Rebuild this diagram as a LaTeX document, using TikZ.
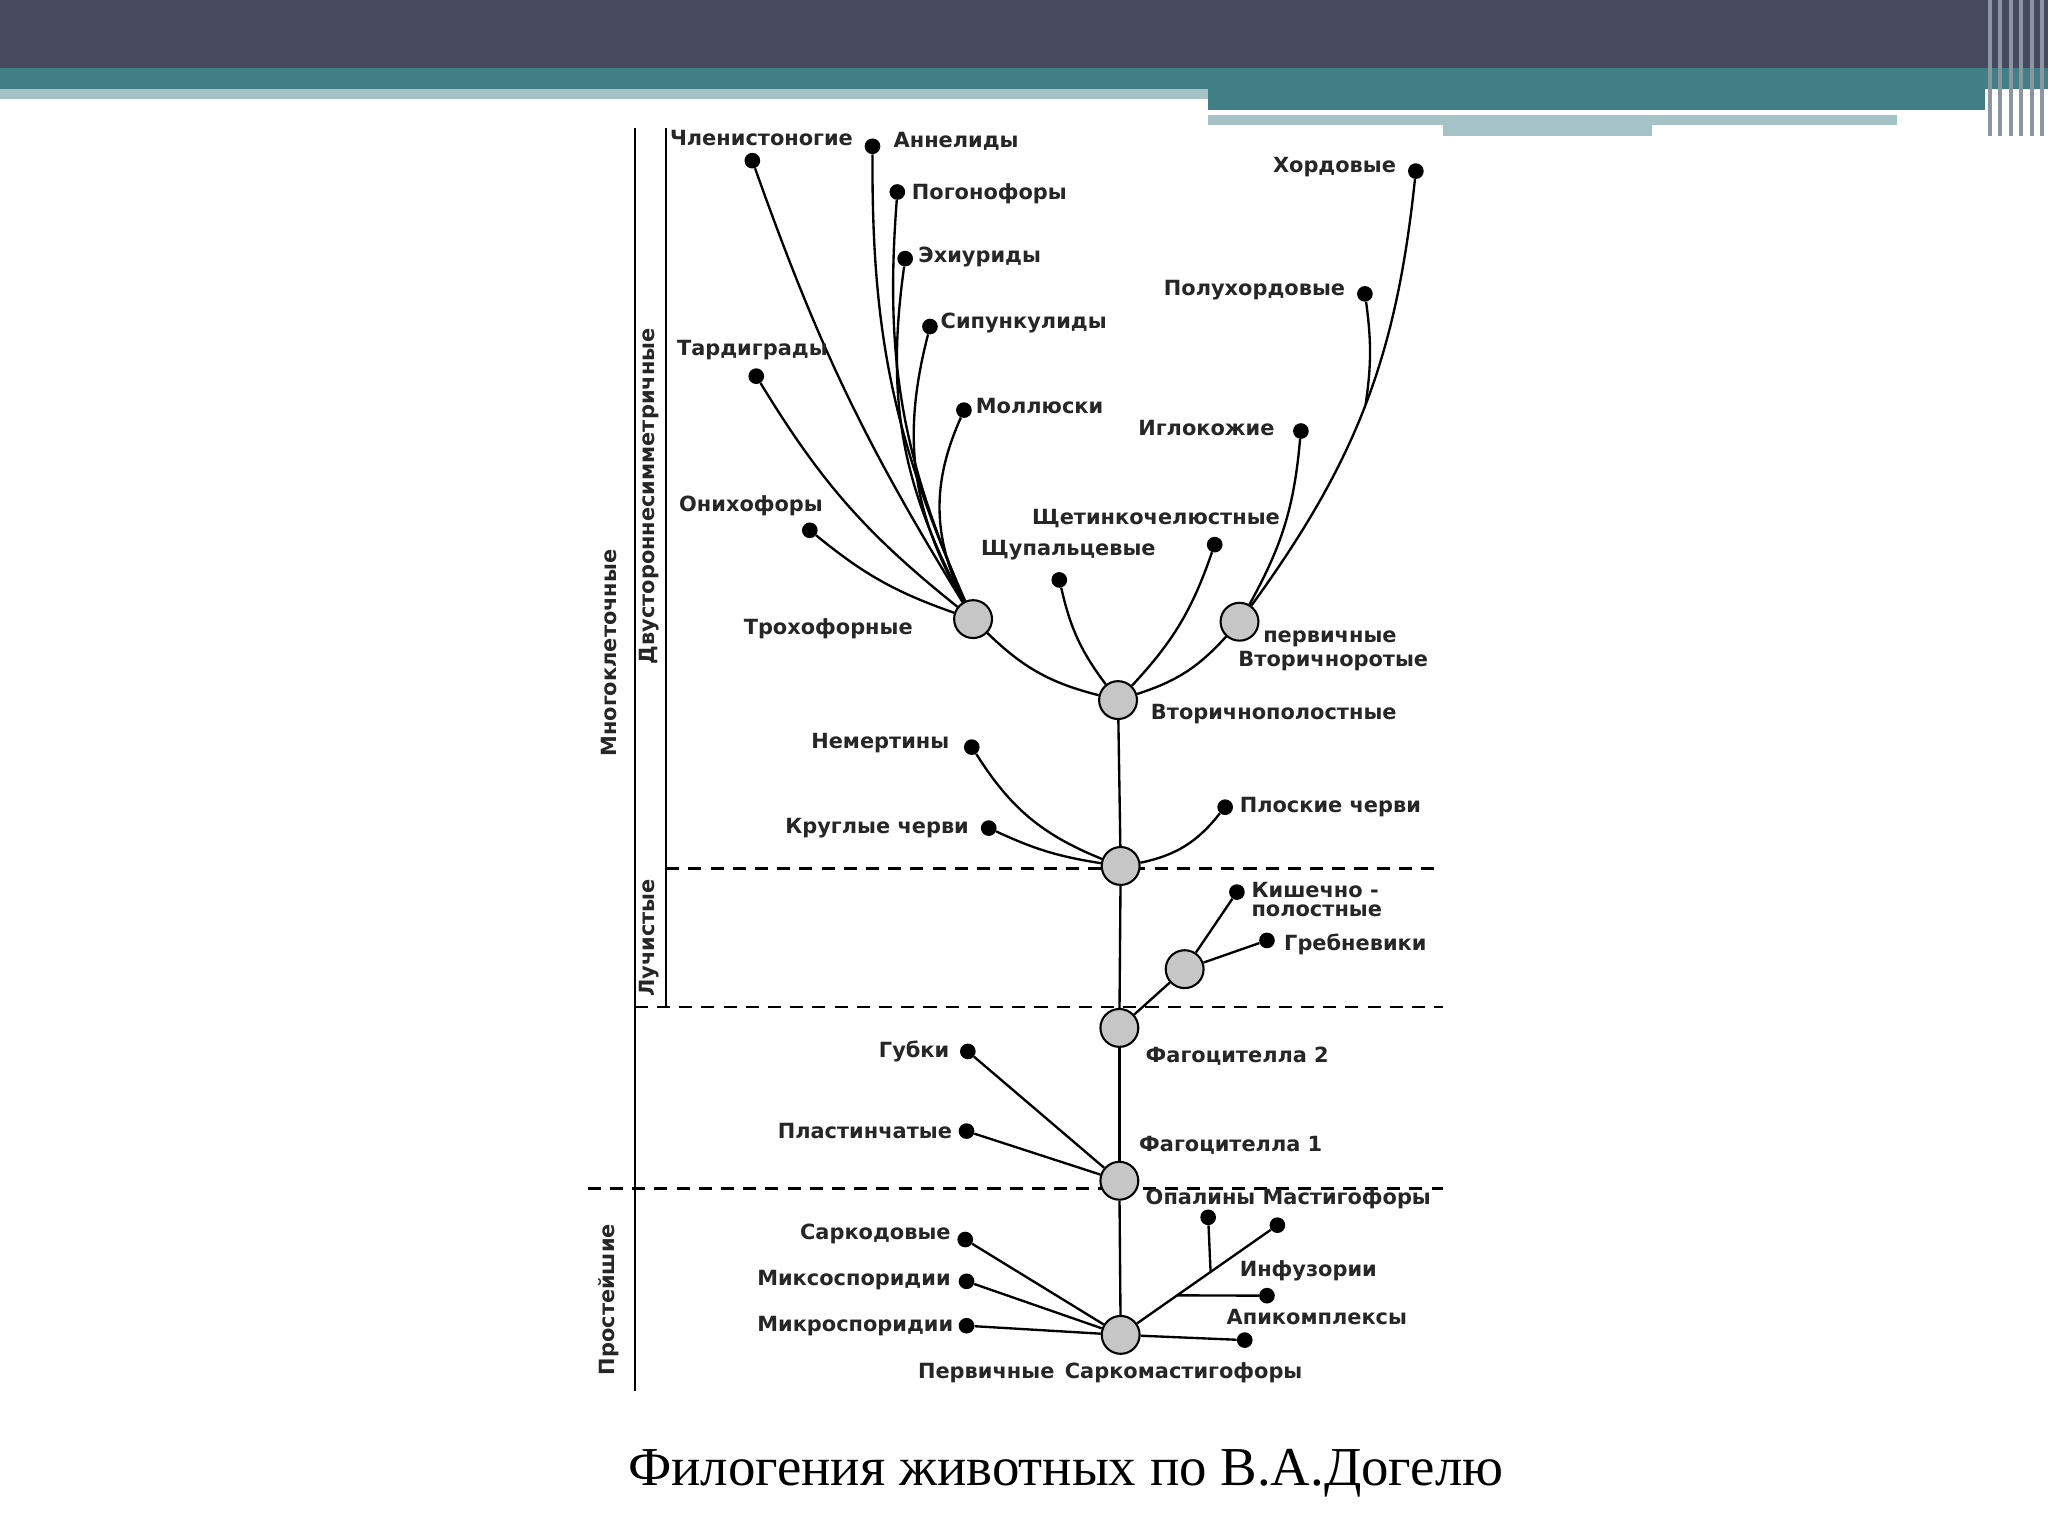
\documentclass[tikz,border=0pt]{standalone}
\usepackage{fontspec}
\setmainfont{DejaVu Sans}
\newfontfamily\capfont{Liberation Serif}
\begin{document}
\begin{tikzpicture}[x=1pt,y=-1pt,
  big/.style={circle,draw=black,line width=1.6pt,fill=gray!45,minimum size=29pt,inner sep=0pt},
  dot/.style={circle,fill=black,minimum size=12pt,inner sep=0pt},
  lab/.style={font=\bfseries\fontsize{16}{17}\selectfont,inner sep=1pt,text=black!85},
  br/.style={line width=1.8pt},
  dsh/.style={line width=1.8pt,dash pattern=on 10pt off 7pt}]
\useasboundingbox (0,0) rectangle (1568,1176);
% header
\fill[fill=white] (0,0) rectangle (1568,1176);
\fill[fill={rgb,255:red,71;green,73;blue,94}] (0,0) rectangle (1568,52);
\fill[fill={rgb,255:red,64;green,128;blue,133}] (0,52) rectangle (1568,68);
\fill[fill={rgb,255:red,165;green,195;blue,198}] (0,68) rectangle (925,76);
\fill[fill={rgb,255:red,64;green,128;blue,133}] (925,68) rectangle (1520,84);
\fill[fill={rgb,255:red,165;green,195;blue,198}] (925,88) rectangle (1452,96);
\fill[fill={rgb,255:red,165;green,195;blue,198}] (1105,96) rectangle (1265,104);
\foreach \x in {1522,1530,1538,1546,1554,1562}{\fill[fill={rgb,255:red,140;green,150;blue,160}] (\x,0) rectangle (\x+3,104);}
% side lines
\draw[br] (486,98) -- (486,1065);
\draw[br] (510,98) -- (510,771);
\draw[dsh] (510,665) -- (1105,665);
\draw[dsh] (486,771) -- (1105,771);
\draw[dsh] (450,910) -- (1105,910);
\node[lab,rotate=90] (mk) at (466,500) {Многоклеточные};
\node[lab,rotate=90] (dv) at (497,380) {Двустороннесимметричные};
\node[lab,rotate=90] (lu) at (497,718) {Лучистые};
\node[lab,rotate=90] (pr) at (466,995) {Простейшие};
% big nodes
\node[big] (root) at (858,1022) {};
\node[big] (f1) at (857,904) {};
\node[big] (f2) at (857,787) {};
\node[big] (cten) at (907,742) {};
\node[big] (bil) at (858,663) {};
\node[big] (vtp) at (856,536) {};
\node[big] (tro) at (745,474) {};
\node[big] (deu) at (949,476) {};
% dots
\foreach \n/\x/\y in {sar/739/949,mix/740/981,mic/740/1015,opa/925/932,mas/978/938,inf/970/992,api/953/1026,
 gub/741/805,pla/740/866,kis/947/683,gre/970/720,nem/744/572,kru/757/634,plo/938/618,
 shu/811/444,she/930/417,oni/620/406,tar/579/288,chl/576/123,ann/668/112,pog/687/147,exi/693/198,sip/712/250,mol/738/314,
 igl/996/330,pol/1045/225,hor/1084/131}
 \node[dot] (\n) at (\x,\y) {};
% edges
\draw[br] (root) -- (f1); \draw[br] (f1) -- (f2); \draw[br] (f2) -- (bil); \draw[br] (bil) -- (vtp);
\draw[br] (root) -- (sar); \draw[br] (root) -- (mix); \draw[br] (root) -- (mic);
\draw[br] (root) -- coordinate[pos=0.3] (ib) coordinate[pos=0.55] (op) (mas);
\draw[br] (op) -- (opa);
\draw[br] (ib) -- (inf); \draw[br] (root) -- (api);
\draw[br] (f1) -- (gub); \draw[br] (f1) -- (pla);
\draw[br] (f2) -- (cten); \draw[br] (cten) -- (kis); \draw[br] (cten) -- (gre);
\draw[br] (bil) to[bend left=18] (nem); \draw[br] (bil) to[bend left=8] (kru); \draw[br] (bil) to[bend right=20] (plo);
\draw[br] (vtp) to[bend left=15] (tro); \draw[br] (vtp) to[bend left=12] (shu);
\draw[br] (vtp) to[bend right=12] (she); \draw[br] (vtp) to[bend right=15] (deu);
\draw[br] (tro) to[bend left=10] (oni); \draw[br] (tro) to[bend left=10] (tar);
\draw[br] (tro) to[bend left=6] (chl); \draw[br] (tro) to[bend left=12] (ann);
\draw[br] (tro) to[bend left=14] (pog); \draw[br] (tro) to[bend left=18] (exi);
\draw[br] (tro) to[bend left=22] (sip); \draw[br] (tro) to[bend left=25] (mol);
\draw[br] (deu) to[bend right=12] (igl);
\draw[br] (deu) to[bend right=15] coordinate[pos=0.5] (hb) (hor);
\draw[br] (hb) to[bend right=8] (pol);
% labels
\node[lab,anchor=north] at (850,1042) {Первичные\hspace{8pt}Саркомастигофоры};
\node[lab,anchor=east] at (729,945) {Саркодовые};
\node[lab,anchor=east] at (729,980) {Миксоспоридии};
\node[lab,anchor=east] at (731,1015) {Микроспоридии};
\node[lab,anchor=west] at (876,918) {Опалины Мастигофоры};
\node[lab,anchor=west] at (948,973) {Инфузории};
\node[lab,anchor=west] at (938,1008) {Апикомплексы};
\node[lab,anchor=east] at (728,805) {Губки};
\node[lab,anchor=east] at (730,866) {Пластинчатые};
\node[lab,anchor=west] at (871,877) {Фагоцителла 1};
\node[lab,anchor=west] at (876,809) {Фагоцителла 2};
\node[lab,anchor=north west,align=left,font=\bfseries\fontsize{16}{15}\selectfont] at (957,674) {Кишечно -\\полостные};
\node[lab,anchor=west] at (982,723) {Гребневики};
\node[lab,anchor=east] at (728,569) {Немертины};
\node[lab,anchor=east] at (743,634) {Круглые черви};
\node[lab,anchor=west] at (948,618) {Плоские черви};
\node[lab,anchor=west] at (880,547) {Вторичнополостные};
\node[lab,anchor=east] at (700,481) {Трохофорные};
\node[lab,anchor=north west,align=left,font=\bfseries\fontsize{16}{18}\selectfont] at (947,482) {\hspace{19pt}первичные\\Вторичноротые};
\node[lab] at (818,421) {Щупальцевые};
\node[lab] at (885,397) {Щетинкочелюстные};
\node[lab] at (575,387) {Онихофоры};
\node[lab] at (576,268) {Тардиграды};
\node[lab] at (583,106) {Членистоногие};
\node[lab,anchor=west] at (683,108) {Аннелиды};
\node[lab,anchor=west] at (697,148) {Погонофоры};
\node[lab,anchor=west] at (702,197) {Эхиуриды};
\node[lab,anchor=west] at (719,247) {Сипункулиды};
\node[lab,anchor=west] at (746,311) {Моллюски};
\node[lab,anchor=east] at (977,328) {Иглокожие};
\node[lab,anchor=east] at (1031,222) {Полухордовые};
\node[lab,anchor=east] at (1070,128) {Хордовые};
\node[font=\capfont\fontsize{42}{46}\selectfont] (cap) at (816,1128) {Филогения животных по В.А.Догелю};
\end{tikzpicture}
\end{document}
